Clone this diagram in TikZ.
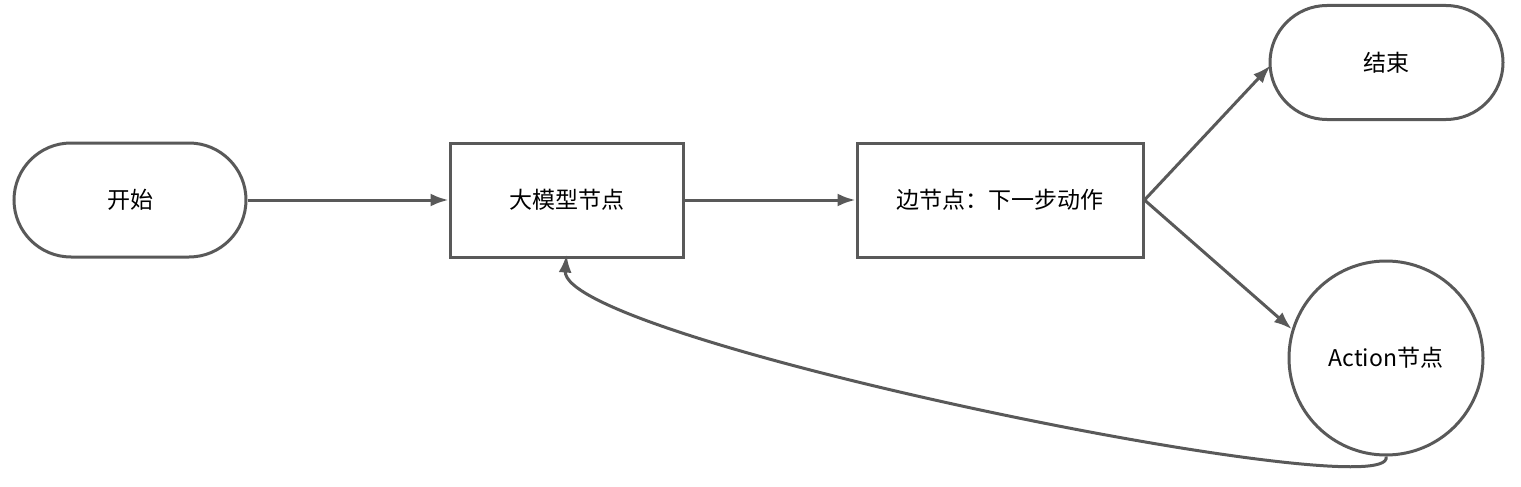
\documentclass[tikz,border=0pt]{standalone}
\usepackage{fontspec}
\setmainfont{Noto Sans CJK SC}
\usetikzlibrary{arrows.meta,shapes.misc}
\begin{document}
\begin{tikzpicture}[x=1pt,y=-1pt,
  line/.style={draw=black!65,line width=3pt},
  arr/.style={line,-{Latex[length=18pt,width=13pt]}},
  stad/.style={line,rounded rectangle,minimum width=232pt,minimum height=114pt,inner sep=0pt,font=\fontsize{23}{27}\selectfont},
  box/.style={line,rectangle,minimum height=114pt,inner sep=0pt,font=\fontsize{23}{27}\selectfont},
  circ/.style={line,circle,minimum size=194pt,inner sep=0pt,font=\fontsize{23}{27}\selectfont}]
\useasboundingbox (0,0) rectangle (1521,487);
\node[stad] (start) at (130,200) {开始};
\node[box,minimum width=233pt] (llm) at (566.5,200) {大模型节点};
\node[box,minimum width=286pt] (edge) at (1000,200) {边节点：下一步动作};
\node[stad,minimum width=233pt] (end) at (1386.5,62.5) {结束};
\node[circ] (act) at (1386,358) {Action节点};
\draw[arr] (edge.east) -- ([xshift=2pt,yshift=-3pt]end.west);
\draw[arr] (start.east) -- (llm.west);
\draw[arr] (llm.east) -- (edge.west);
\draw[arr] (edge.east) -- (act.163);
\draw[arr] (act.south) .. controls (1400,510) and (560,340) .. ([yshift=4pt]llm.south);
\end{tikzpicture}
\end{document}
